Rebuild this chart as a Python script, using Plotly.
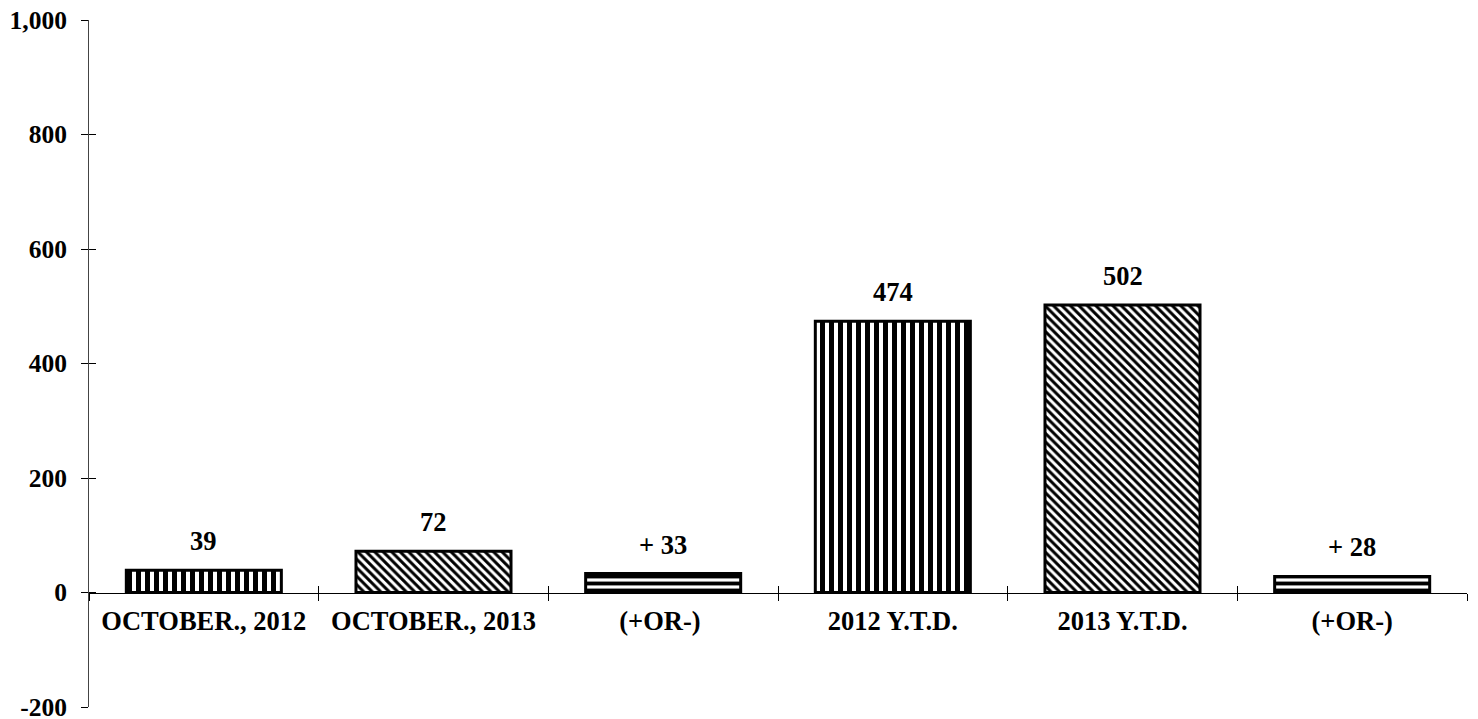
import plotly.graph_objects as go

categories = ["OCTOBER., 2012", "OCTOBER., 2013", "(+OR-) ", "2012 Y.T.D.", "2013 Y.T.D.", "(+OR-)"]
values = [39, 72, 33, 474, 502, 28]
value_labels = ["39", "72", "+ 33", "474", "502", "+ 28"]
patterns = ["|", "\\", "-", "|", "\\", "-"]
pattern_sizes = [9, 6, 7, 9, 6, 7]
pattern_solidity = [0.55, 0.5, 0.55, 0.55, 0.5, 0.55]

y_range = [-200, 1000]
y_ticks = [-200, 0, 200, 400, 600, 800, 1000]
y_ticktext = [f"{v:,}" for v in y_ticks]

FONT = dict(family="Liberation Serif", size=26.5, color="black", weight="bold")
Y_FONT = dict(FONT, size=25.5)

# x axis sits on the zero line, not at the bottom of the plot
zero_pos = (0 - y_range[0]) / (y_range[1] - y_range[0])

fig = go.Figure()
fig.add_trace(go.Bar(
    x=categories, y=values,
    marker=dict(
        color="white",
        line=dict(color="black", width=3),
        pattern=dict(shape=patterns, size=pattern_sizes, solidity=pattern_solidity,
                     fgcolor="black", bgcolor="white", fgopacity=1, fillmode="replace"),
    ),
    hoverinfo="skip",
    showlegend=False,
))
# invisible copy so the overlay axes (inside half of the crossing ticks) get drawn
fig.add_trace(go.Bar(x=categories, y=values, xaxis="x2", yaxis="y2",
                     marker=dict(opacity=0), hoverinfo="skip", showlegend=False))

for cat, val, lab in zip(categories, values, value_labels):
    fig.add_annotation(x=cat, y=val, text=lab, showarrow=False, yshift=29, font=FONT)

axis_common = dict(showgrid=False, zeroline=False, automargin=False)
# page body has an 8px margin, so the figure is a little smaller than the window
fig.update_layout(
    width=1470, height=711,
    margin=dict(l=81, r=11, t=12, b=12),
    paper_bgcolor="white", plot_bgcolor="white",
    bargap=0.325,
    xaxis=dict(**axis_common, type="category", anchor="free", position=zero_pos,
               showline=True, linecolor="black", linewidth=1,
               ticks="outside", ticklen=7, tickcolor="black", tickson="boundaries",
               ticklabelstandoff=5, tickfont=FONT),
    xaxis2=dict(**axis_common, type="category", overlaying="x", anchor="free", position=zero_pos,
                showline=False, ticks="inside", ticklen=7, tickcolor="black",
                tickson="boundaries", showticklabels=False, matches="x"),
    yaxis=dict(**axis_common, range=y_range, tickvals=y_ticks, ticktext=y_ticktext,
               showline=True, linecolor="#444", linewidth=1,
               ticks="outside", ticklen=7, tickcolor="black",
               ticklabelstandoff=9, ticklabeloverflow="allow", tickfont=Y_FONT),
    yaxis2=dict(**axis_common, range=y_range, tickvals=y_ticks, overlaying="y", side="left",
                anchor="x", showline=False, ticks="inside", ticklen=7, tickcolor="black",
                showticklabels=False),
)

fig.write_html("out.html")
